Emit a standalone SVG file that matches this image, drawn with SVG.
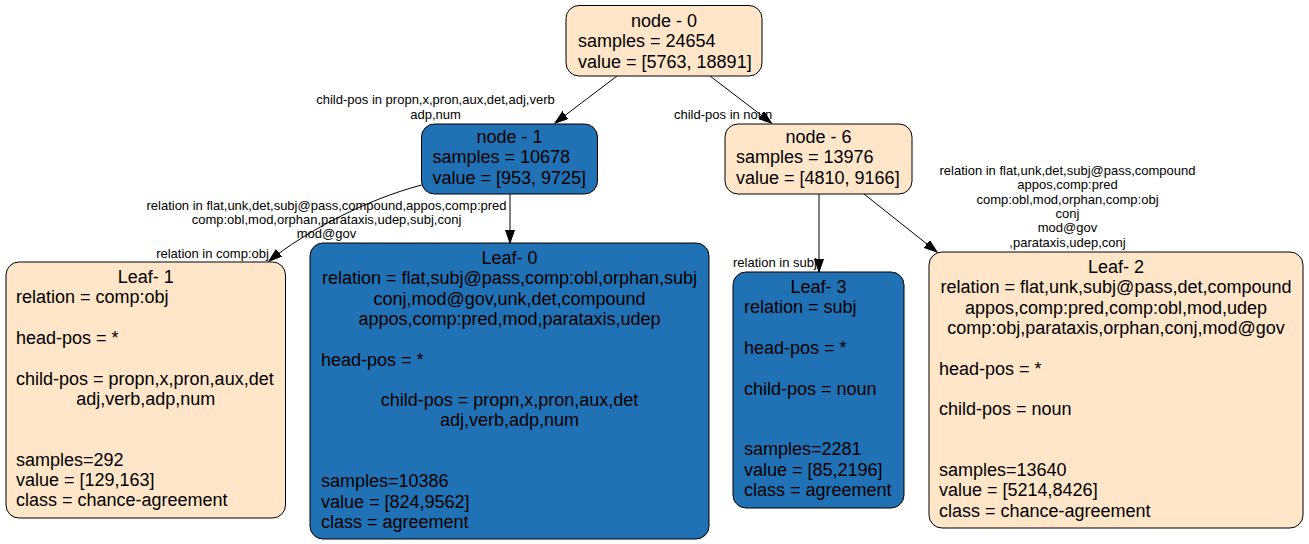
<svg xmlns="http://www.w3.org/2000/svg" width="1309" height="544" viewBox="0 0 1309 544">
<defs>
<marker id="arr" markerUnits="userSpaceOnUse" markerWidth="14" markerHeight="10" refX="13" refY="4.5" orient="auto"><path d="M0,0 L13,4.5 L0,9 z" fill="#000" stroke="#000" stroke-width="1"/></marker>
</defs>
<style>
.n{stroke:#000;stroke-width:1}
.tan{fill:#ffe6c9}
.blue{fill:#2171b5}
text{font-family:"Liberation Sans",Arial,sans-serif;fill:#000}
.t{font-size:18px}
.e{font-size:13px}
.m{text-anchor:middle}
.edge{stroke:#000;stroke-width:1;fill:none;marker-end:url(#arr)}
</style>
<rect width="1309" height="544" fill="#fff"/>
<g id="connectors">
<line class="edge" x1="617" y1="76" x2="555" y2="123"/>
<line class="edge" x1="710" y1="76" x2="771.5" y2="123"/>
<path class="edge" d="M421.5,185 C365,200 305,232 269,261"/>
<line class="edge" x1="510" y1="194" x2="510" y2="243"/>
<line class="edge" x1="819" y1="194" x2="819" y2="272"/>
<line class="edge" x1="864" y1="194" x2="937" y2="252"/>
<text class="e m" x="435.5" y="104">child-pos in propn,x,pron,aux,det,adj,verb</text>
<text class="e m" x="435.5" y="118.5">adp,num</text>
<text class="e" x="674" y="119">child-pos in noun</text>
<text class="e m" x="326.5" y="209.5">relation in flat,unk,det,subj@pass,compound,appos,comp:pred</text>
<text class="e m" x="326.5" y="223.8">comp:obl,mod,orphan,parataxis,udep,subj,conj</text>
<text class="e m" x="326.5" y="238">mod@gov</text>
<text class="e m" x="212.5" y="258">relation in comp:obj</text>
<text class="e" x="733" y="267">relation in subj</text>
<text class="e m" x="1067.5" y="175">relation in flat,unk,det,subj@pass,compound</text>
<text class="e m" x="1067.5" y="189.3">appos,comp:pred</text>
<text class="e m" x="1067.5" y="203.6">comp:obl,mod,orphan,comp:obj</text>
<text class="e m" x="1067.5" y="218">conj</text>
<text class="e m" x="1067.5" y="232.3">mod@gov</text>
<text class="e m" x="1067.5" y="246.6">,parataxis,udep,conj</text>
</g>
<g id="node0">
<rect class="n tan" x="566" y="5.5" width="196" height="70.5" rx="13"/>
<text class="t m" x="664" y="27">node - 0</text>
<text class="t" x="578" y="47.3">samples = 24654</text>
<text class="t" x="578" y="67.6">value = [5763, 18891]</text>
</g>
<g id="node1">
<rect class="n blue" x="421.5" y="124" width="176" height="70" rx="13"/>
<text class="t m" x="509.5" y="143">node - 1</text>
<text class="t" x="432.5" y="163.3">samples = 10678</text>
<text class="t" x="432.5" y="183.6">value = [953, 9725]</text>
</g>
<g id="node6">
<rect class="n tan" x="725" y="124" width="187" height="70" rx="13"/>
<text class="t m" x="818.5" y="143">node - 6</text>
<text class="t" x="736" y="163.3">samples = 13976</text>
<text class="t" x="736" y="183.6">value = [4810, 9166]</text>
</g>
<g id="leaf1">
<rect class="n tan" x="6" y="262" width="279.5" height="256" rx="13"/>
<text class="t m" x="145.7" y="283">Leaf- 1</text>
<text class="t" x="16" y="303.3">relation = comp:obj</text>
<text class="t" x="16" y="343.9">head-pos = *</text>
<text class="t" x="16" y="384.5">child-pos = propn,x,pron,aux,det</text>
<text class="t m" x="145.7" y="404.8">adj,verb,adp,num</text>
<text class="t" x="16" y="465.7">samples=292</text>
<text class="t" x="16" y="486">value = [129,163]</text>
<text class="t" x="16" y="506.3">class = chance-agreement</text>
</g>
<g id="leaf0">
<rect class="n blue" x="310" y="243" width="399" height="296" rx="13"/>
<text class="t m" x="509.5" y="264">Leaf- 0</text>
<text class="t m" x="509.5" y="284.3">relation = flat,subj@pass,comp:obl,orphan,subj</text>
<text class="t m" x="509.5" y="304.6">conj,mod@gov,unk,det,compound</text>
<text class="t m" x="509.5" y="324.9">appos,comp:pred,mod,parataxis,udep</text>
<text class="t" x="321" y="365.5">head-pos = *</text>
<text class="t m" x="509.5" y="406.1">child-pos = propn,x,pron,aux,det</text>
<text class="t m" x="509.5" y="426.4">adj,verb,adp,num</text>
<text class="t" x="321" y="487.3">samples=10386</text>
<text class="t" x="321" y="507.6">value = [824,9562]</text>
<text class="t" x="321" y="527.9">class = agreement</text>
</g>
<g id="leaf3">
<rect class="n blue" x="733" y="272" width="171" height="236" rx="13"/>
<text class="t m" x="818.5" y="293">Leaf- 3</text>
<text class="t" x="744" y="313.3">relation = subj</text>
<text class="t" x="744" y="353.9">head-pos = *</text>
<text class="t" x="744" y="394.5">child-pos = noun</text>
<text class="t" x="744" y="455.4">samples=2281</text>
<text class="t" x="744" y="475.7">value = [85,2196]</text>
<text class="t" x="744" y="496">class = agreement</text>
</g>
<g id="leaf2">
<rect class="n tan" x="929" y="252" width="374" height="276" rx="13"/>
<text class="t m" x="1116" y="273">Leaf- 2</text>
<text class="t m" x="1116" y="293.3">relation = flat,unk,subj@pass,det,compound</text>
<text class="t m" x="1116" y="313.6">appos,comp:pred,comp:obl,mod,udep</text>
<text class="t m" x="1116" y="333.9">comp:obj,parataxis,orphan,conj,mod@gov</text>
<text class="t" x="939" y="374.5">head-pos = *</text>
<text class="t" x="939" y="415.1">child-pos = noun</text>
<text class="t" x="939" y="476">samples=13640</text>
<text class="t" x="939" y="496.3">value = [5214,8426]</text>
<text class="t" x="939" y="516.6">class = chance-agreement</text>
</g>
</svg>
